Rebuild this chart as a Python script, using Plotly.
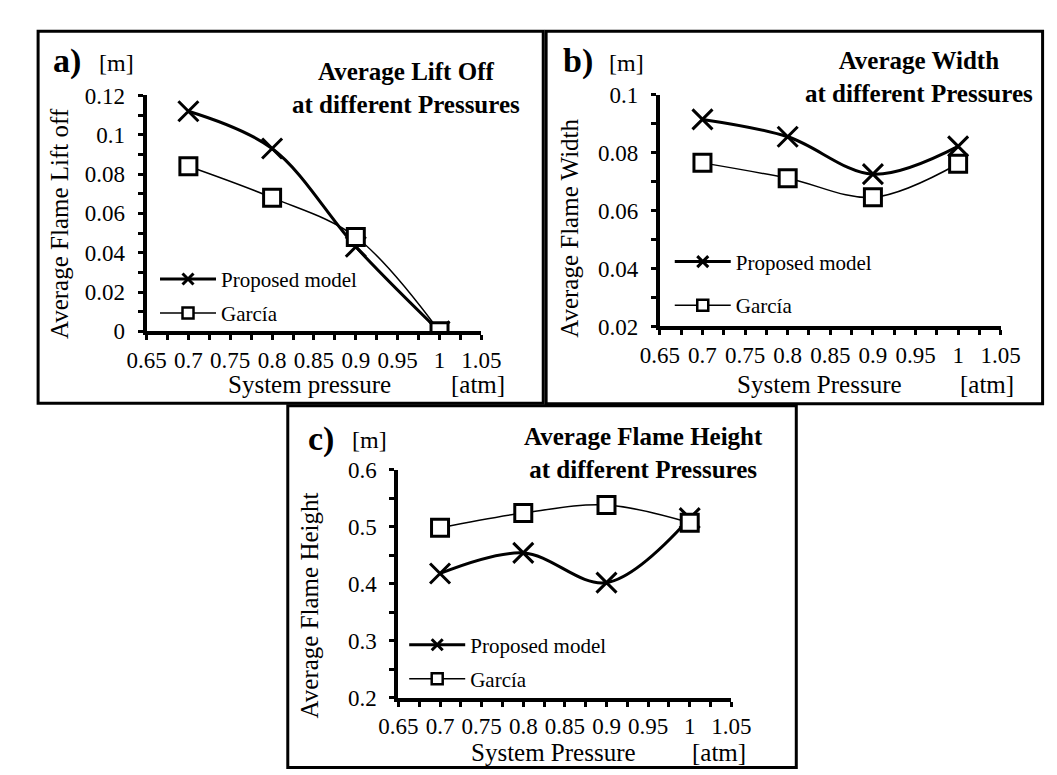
import plotly.graph_objects as go

W, H = 1057, 775
FONT = "Liberation Serif"

# ---- data ----
pressure = [0.7, 0.8, 0.9, 1.0]
liftoff_model = [0.112, 0.093, 0.043, 0.0]
liftoff_garcia = [0.084, 0.068, 0.048, 0.0]
width_model = [0.0915, 0.0855, 0.0726, 0.0822]
width_garcia = [0.0765, 0.0712, 0.0646, 0.0762]
height_model = [0.418, 0.454, 0.402, 0.515]
height_garcia = [0.498, 0.524, 0.538, 0.507]
series_names = ["Proposed model", "García"]

def px(x):
    return x / W

def py(y):
    return 1 - y / H

fig = go.Figure()

panels = [
    dict(ax="", xs=(123.2, 471.2), ys=(321.7, 78.0), yr=[0, 0.12], dt=0.02, mdt=0.01,
         m=liftoff_model, g=liftoff_garcia),
    dict(ax="2", xs=(656.7, 1011.0), ys=(316.7, 77.3), yr=[0.02, 0.1], dt=0.02, mdt=0.01,
         m=width_model, g=width_garcia),
    dict(ax="3", xs=(385.0, 731.0), ys=(700.3, 464.7), yr=[0.2, 0.6], dt=0.1, mdt=0.05,
         m=height_model, g=height_garcia),
]

legend_pos = [
    (198, 268, 303),
    (733, 250, 295),
    (457, 646, 681),
]

layout_axes = {}
legend_count = 0
for i, p in enumerate(panels):
    xa = "x" + p["ax"]
    ya = "y" + p["ax"]
    fig.add_trace(go.Scatter(
        x=pressure, y=p["m"], xaxis=xa, yaxis=ya, mode="lines+markers",
        name=series_names[0], showlegend=False,
        line=dict(color="black", width=3, shape="spline", smoothing=1.0),
        marker=dict(symbol="x-thin", size=20, line=dict(color="black", width=3)),
    ))
    fig.add_trace(go.Scatter(
        x=pressure, y=p["g"], xaxis=xa, yaxis=ya, mode="lines+markers",
        name=series_names[1], showlegend=False,
        line=dict(color="black", width=1.5, shape="spline", smoothing=1.0),
        marker=dict(symbol="square", size=17, color="white", line=dict(color="black", width=3)),
    ))
    tx, y1, y2 = legend_pos[i]
    for name, yc, lw, sym, mlw in [(series_names[0], y1, 3, "x-thin", 3),
                                   (series_names[1], y2, 1.5, "square", 2.5)]:
        legend_count += 1
        lname = "legend" if legend_count == 1 else "legend%d" % legend_count
        fig.add_trace(go.Scatter(
            x=[None], y=[None], xaxis=xa, yaxis=ya, mode="lines+markers",
            name=name, legend=lname, showlegend=True,
            line=dict(color="black", width=lw),
            marker=dict(symbol=sym, size=11, color="white" if sym == "square" else "black",
                        line=dict(color="black", width=mlw)),
        ))
        layout_axes[lname] = dict(
            x=px(tx - 66), y=py(yc), xanchor="left", yanchor="middle",
            bgcolor="rgba(0,0,0,0)", borderwidth=0, itemwidth=56,
            font=dict(family=FONT, size=21, color="black"),
        )
    xkey = "xaxis" + p["ax"]
    ykey = "yaxis" + p["ax"]
    layout_axes[xkey] = dict(
        domain=[px(p["xs"][0]), px(p["xs"][1])], anchor=ya, range=[0.65, 1.05],
        tick0=0.65, dtick=0.05, ticks="outside", ticklen=5, tickwidth=3, tickcolor="black",
        minor=dict(dtick=0.025, tick0=0.65, ticks="outside", ticklen=5, tickwidth=3, tickcolor="black"),
        showline=True, linecolor="black", linewidth=4, showgrid=False, zeroline=False,
        tickfont=dict(family=FONT, size=23, color="black"), fixedrange=True,
    )
    layout_axes[ykey] = dict(
        domain=[py(p["ys"][0]), py(p["ys"][1])], anchor=xa, range=p["yr"],
        tick0=p["yr"][0], dtick=p["dt"], ticks="outside", ticklen=5, tickwidth=3, tickcolor="black",
        minor=dict(dtick=p["mdt"], tick0=p["yr"][0], ticks="outside", ticklen=5, tickwidth=3, tickcolor="black"),
        showline=True, linecolor="black", linewidth=4, showgrid=False, zeroline=False,
        tickfont=dict(family=FONT, size=23, color="black"), ticklabelstandoff=8, fixedrange=True,
    )

annotations = []

def ann(text, x, y, size, bold=False, xanchor="center", angle=0):
    t = "<b>%s</b>" % text if bold else text
    annotations.append(dict(
        text=t, x=px(x), y=py(y), xref="paper", yref="paper", showarrow=False,
        xanchor=xanchor, yanchor="middle", textangle=angle, align="center",
        font=dict(family=FONT, size=size, color="black"),
    ))

# panel a
ann("a)", 24, 42, 34, bold=True, xanchor="left")
ann("[m]", 72, 44, 24, xanchor="left")
ann("Average Lift Off<br>at different Pressures", 393, 70, 25, bold=True)
ann("Average Flame Lift off", 32, 210, 25, angle=-90)
ann("System pressure", 293, 377, 25)
ann("[atm]", 468, 377, 25)
# panel b
ann("b)", 554, 42, 34, bold=True, xanchor="left")
ann("[m]", 602, 44, 24, xanchor="left")
ann("Average Width<br>at different Pressures", 926, 59, 25, bold=True)
ann("Average Flame Width", 562, 215, 25, angle=-90)
ann("System Pressure", 823, 377, 25)
ann("[atm]", 997, 377, 25)
# panel c
ann("c)", 289, 433, 34, bold=True, xanchor="left")
ann("[m]", 335, 434, 24, xanchor="left")
ann("Average Flame Height<br>at different Pressures", 640, 447, 25, bold=True)
ann("Average Flame Height", 293, 605, 25, angle=-90)
ann("System Pressure", 546, 757, 25)
ann("[atm]", 718, 757, 25)

shapes = []
for (x0, y0, x1, y1) in [(10.5, 11.5, 535.5, 396.0), (538.5, 11.5, 1054.5, 396.5), (270.0, 398.5, 798.5, 772.5)]:
    shapes.append(dict(type="rect", xref="paper", yref="paper",
                       x0=px(x0), x1=px(x1), y0=py(y1), y1=py(y0),
                       line=dict(color="black", width=3), fillcolor="rgba(0,0,0,0)"))

fig.update_layout(
    width=W, height=H, margin=dict(l=0, r=0, t=0, b=0),
    paper_bgcolor="white", plot_bgcolor="white",
    font=dict(family=FONT, color="black"),
    annotations=annotations, shapes=shapes,
    **layout_axes,
)

fig.write_html("out.html")
